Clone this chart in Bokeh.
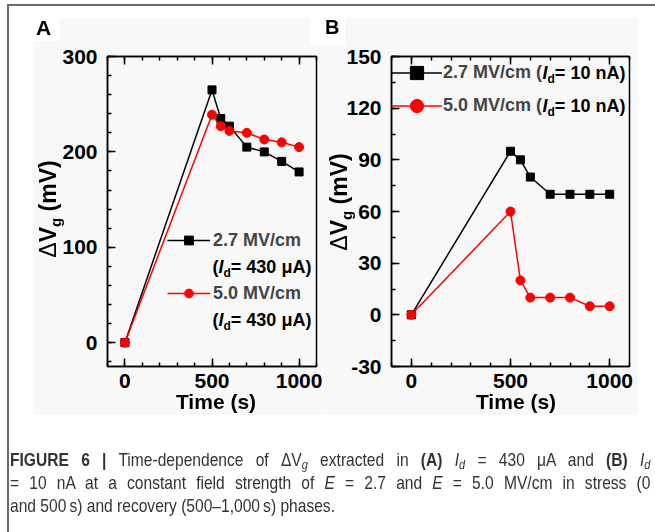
from bokeh.plotting import figure
from bokeh.models import (Range1d, LinearAxis, FixedTicker, Label, Legend,
                          LegendItem, Div)
from bokeh.layouts import row, column
from bokeh.embed import file_html
from bokeh.resources import INLINE

# ---------------- data ----------------
time_s = [0, 500, 550, 600, 700, 800, 900, 1000]
dvg_a_27 = [0, 265, 235, 227, 205, 200, 190, 179]
dvg_a_50 = [0, 239, 227, 222, 220, 213, 210, 205]
dvg_b_27 = [0, 95, 90, 80, 70, 70, 70, 70]
dvg_b_50 = [0, 60, 20, 10, 10, 10, 5, 5]

x_ticks = [0, 500, 1000]
x_minor = [-100, 0, 100, 200, 300, 400, 500, 600, 700, 800, 900, 1000, 1100]
ya_ticks = [0, 100, 200, 300]
ya_minor = [-20, 0, 20, 40, 60, 80, 100, 120, 140, 160, 180, 200, 220, 240, 260, 280, 300]
yb_ticks = [-30, 0, 30, 60, 90, 120, 150]
yb_minor = [-30, -15, 0, 15, 30, 45, 60, 75, 90, 105, 120, 135, 150]

legend_a = ["2.7 MV/cm", "5.0 MV/cm"]
legend_a_tail = "= 430 μA)"
legend_b = ["2.7 MV/cm (", "5.0 MV/cm ("]
legend_b_tail = "= 10 nA)"
x_title = "Time (s)"
panel_names = ["A", "B"]

FONT = "Liberation Sans"
BG = "#f8f8f8"
RED = "#ff0000"

BOLD_W = {' ': .278, '(': .333, ')': .333, '.': .278, '/': .278, '=': .584,
          'A': .722, 'I': .278, 'M': .833, 'V': .667, 'c': .556, 'm': .889,
          'n': .611, 'd': .611, 'g': .611, 'μ': .611, 'T': .611, 'i': .278,
          'e': .556, 's': .556}


def tw(s, size):
    return sum(BOLD_W.get(c, .556) for c in s) * size


def add_label(p, text, dx, dy_top, size, style="bold"):
    lab = Label(x=p.x_range.start, y=p.y_range.end, x_units="data", y_units="data",
                x_offset=dx, y_offset=-dy_top, text=text, text_font=FONT,
                text_font_size=f"{size}px", text_font_style=style,
                text_align="left", text_baseline="middle", text_color="black")
    p.add_layout(lab)


def add_row_text(p, segs, x0, y_mid):
    x = x0
    for text, size, style, shift in segs:
        add_label(p, text, x, y_mid + shift, size, style)
        x += tw(text, size)


def make_fig(width, y0, y1, yt, ym, left, right, top, overrides=None):
    p = figure(width=width, height=398, x_range=Range1d(-100, 1100),
               y_range=Range1d(y0, y1), output_backend="svg",
               toolbar_location=None, min_border_left=left,
               min_border_right=right, min_border_top=top,
               min_border_bottom=49)
    p.background_fill_color = BG
    p.border_fill_color = BG
    p.grid.visible = False
    p.outline_line_color = "black"
    p.outline_line_width = 1.5
    bottom = p.below[0]
    leftax = p.left[0]
    bottom.ticker = FixedTicker(ticks=x_ticks, minor_ticks=x_minor)
    leftax.ticker = FixedTicker(ticks=yt, minor_ticks=ym)
    if overrides:
        leftax.major_label_overrides = overrides
    topax = LinearAxis(ticker=FixedTicker(ticks=x_ticks, minor_ticks=x_minor),
                       major_label_overrides={t: "" for t in x_ticks})
    p.add_layout(topax, "above")
    for ax in [bottom, leftax, topax]:
        ax.axis_line_width = 1.5
        ax.axis_line_color = "black"
        ax.major_tick_in = 8
        ax.major_tick_out = 0
        ax.minor_tick_in = 4
        ax.minor_tick_out = 0
        ax.major_tick_line_width = 1.5
        ax.minor_tick_line_width = 1.5
        ax.major_tick_line_color = "black"
        ax.minor_tick_line_color = "black"
        ax.major_label_text_font = FONT
        ax.major_label_text_font_size = "21px"
        ax.major_label_text_font_style = "bold"
        ax.major_label_text_color = "black"
    bottom.major_label_standoff = 7
    leftax.major_label_standoff = 10
    topax.major_label_standoff = 0
    return p


def draw_series(p, y27, y50):
    l1 = p.line(time_s, y27, line_color="black", line_width=1.5)
    s1 = p.scatter(time_s, y27, marker="square", size=8, color="black")
    l2 = p.line(time_s, y50, line_color=RED, line_width=1.5)
    s2 = p.scatter(time_s, y50, marker="circle", size=9, color=RED)
    return [l1, s1], [l2, s2]


# ---------------- panel A ----------------
pA = make_fig(290, -25, 300, ya_ticks, ya_minor, 75, 6, 39)
ra, rb = draw_series(pA, dvg_a_27, dvg_a_50)
legA = Legend(items=[LegendItem(label=legend_a[0], renderers=ra),
                     LegendItem(label=legend_a[1], renderers=rb)],
              location=(60, 62), glyph_width=43, glyph_height=22,
              label_height=22, label_standoff=3, spacing=31, padding=0,
              margin=0, background_fill_alpha=0, border_line_color=None,
              label_text_font=FONT, label_text_font_size="18px",
              label_text_font_style="bold")
pA.add_layout(legA)
for yc in (210, 263):
    add_row_text(pA, [("(", 18, "bold", 0), ("I", 18, "bold italic", 0),
                      ("d", 12, "bold", 6), (legend_a_tail, 18, "bold", 0)],
                 105, yc)

# ---------------- panel B ----------------
pB = make_fig(316, -30, 150, yb_ticks, yb_minor, 69, 9, 38, overrides={-30: "-30"})
ra, rb = draw_series(pB, dvg_b_27, dvg_b_50)
legB = Legend(items=[LegendItem(label=legend_b[0], renderers=ra),
                     LegendItem(label=legend_b[1], renderers=rb)],
              location="top_left", glyph_width=51, glyph_height=33,
              label_height=33, label_standoff=1, spacing=0, padding=0,
              margin=0, background_fill_alpha=0, border_line_color=None,
              label_text_font=FONT, label_text_font_size="18px",
              label_text_font_style="bold")
pB.add_layout(legB)
for yc, lab in zip((16.5, 49.5), legend_b):
    x0 = 52 + tw(lab, 18)
    add_row_text(pB, [("I", 18, "bold italic", 0), ("d", 12, "bold", 6),
                      (legend_b_tail, 18, "bold", 0)], x0, yc)

# ---------------- titles outside the frames (HTML overlay) ----------------
TXT = "font-family:'Liberation Sans',Arial,sans-serif;font-weight:bold;color:black;white-space:nowrap;"


def fixed(style, html):
    return f'<div style="position:fixed;{style}">{html}</div>'


def ylabel_html(baseline_x, center):
    size = 23
    left = baseline_x - 0.8465 * size
    return fixed(
        f"left:{left:.1f}px;top:{center + 80}px;width:160px;height:{size}px;text-align:center;"
        f"transform-origin:0 0;transform:rotate(-90deg);font-size:{size}px;"
        f"line-height:{size}px;{TXT}",
        '<span style="font-weight:normal">Δ</span>V'
        '<span style="font-size:15px;vertical-align:-5px;">g</span> (mV)')


def xtitle_html(cx):
    return fixed(
        f"left:{cx - 60}px;top:391px;width:120px;text-align:center;"
        f"font-size:21px;line-height:21px;{TXT}", x_title)


overlay = (
    fixed("left:7px;top:4px;width:700px;height:600px;border-top:2px solid #6a6a6a;"
          "border-left:2px solid #6a6a6a;pointer-events:none;", "")
    + fixed(f"left:32px;top:17px;width:28px;height:24px;background:white;box-sizing:border-box;"
            f"padding:0 0 0 4px;font-size:21px;line-height:21px;{TXT}", panel_names[0])
    + fixed(f"left:310px;top:17px;width:35px;height:28px;background:white;box-sizing:border-box;"
            f"padding:0 0 0 15px;font-size:20px;line-height:20px;{TXT}", panel_names[1])
    + ylabel_html(56, 209) + ylabel_html(347, 202)
    + xtitle_html(216) + xtitle_html(516)
)

# ---------------- caption ----------------
sub = '<span style="font-size:70%;vertical-align:-3px;line-height:1;">'
just = '<div style="width:781px;height:23px;text-align:justify;text-align-last:justify;">'
caption_html = (
    overlay
    + '<div style="font-family:\'Liberation Sans\',Arial,sans-serif;font-size:19px;'
    'line-height:23px;color:#333333;white-space:nowrap;transform:scaleX(0.82);'
    'transform-origin:0 0;">'
    + just + '<b>FIGURE 6 |</b> Time-dependence of ΔV' + sub + '<i>g</i></span> extracted in '
    '<b>(A)</b> <i>I</i>' + sub + '<i>d</i></span> = 430 μA and <b>(B)</b> <i>I</i>'
    + sub + '<i>d</i></span></div>'
    + just + '= 10 nA at a constant field strength of <i>E</i> = 2.7 and <i>E</i> = 5.0 '
    'MV/cm in stress (0</div>'
    '<div style="height:23px;">and 500&thinsp;s) and recovery (500–1,000&thinsp;s) phases.</div></div>'
)
caption = Div(text=caption_html, width=640, height=80, margin=(33, 0, 0, 10))

layout = column(row(pA, pB, margin=(17, 0, 0, 32)), caption)

with open("out.html", "w") as f:
    f.write(file_html(layout, INLINE))
